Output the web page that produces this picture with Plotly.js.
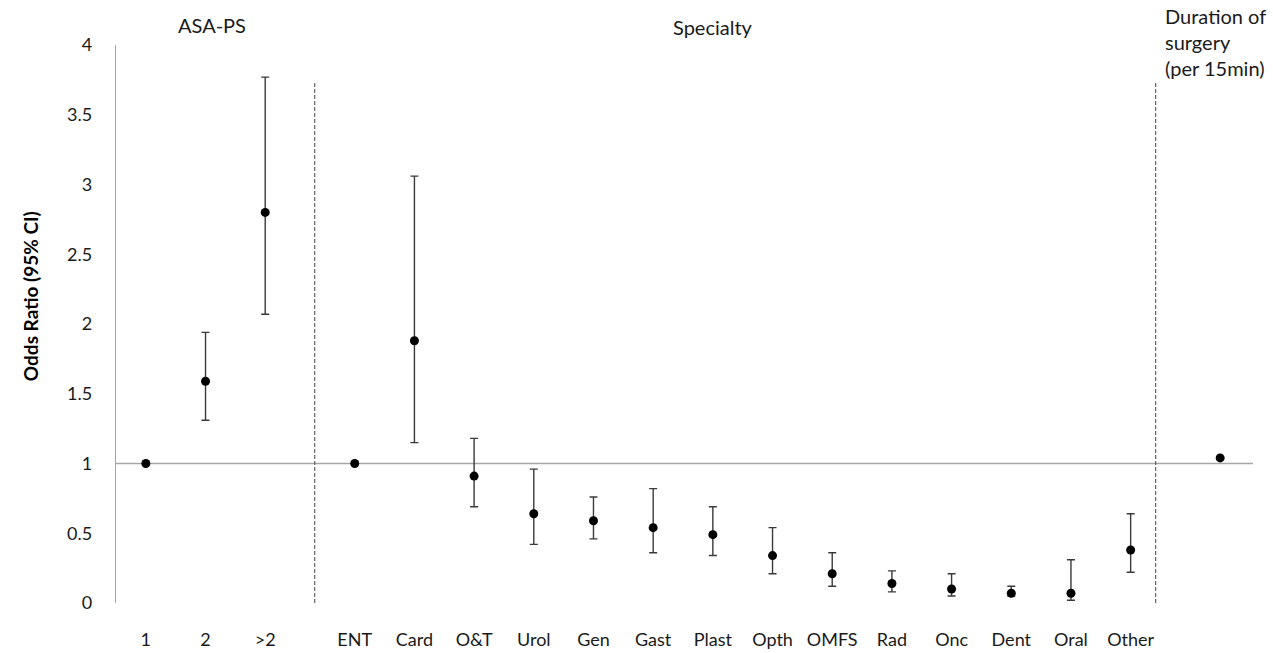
<!DOCTYPE html>
<html>
<head>
<meta charset="utf-8">
<script src="https://cdn.plot.ly/plotly-3.0.1.min.js"></script>
<style>html,body{margin:0;padding:0;background:#fff;}#chart{width:1273px;height:653px;}</style>
</head>
<body>
<div id="chart"></div>
<script>
// ---- data ----
const asaLabels = ['1', '2', '>2'];
const asaOR     = [1.00, 1.59, 2.80];
const asaLow    = [null, 1.31, 2.07];
const asaHigh   = [null, 1.94, 3.77];

const specLabels = ['ENT','Card','O&T','Urol','Gen','Gast','Plast','Opth','OMFS','Rad','Onc','Dent','Oral','Other'];
const specOR     = [1.00, 1.88, 0.91, 0.64, 0.59, 0.54, 0.49, 0.34, 0.21, 0.14, 0.10, 0.07, 0.07, 0.38];
const specLow    = [null, 1.15, 0.69, 0.42, 0.46, 0.36, 0.34, 0.21, 0.12, 0.08, 0.05, 0.05, 0.02, 0.22];
const specHigh   = [null, 3.06, 1.18, 0.96, 0.76, 0.82, 0.69, 0.54, 0.36, 0.23, 0.21, 0.12, 0.31, 0.64];

const durLabels = [''];
const durOR     = [1.04];
const durLow    = [null];
const durHigh   = [null];

const groupNames = ['ASA-PS', 'Specialty', 'Duration of<br>surgery<br>(per 15min)'];
const yTitle = 'Odds Ratio (95% CI)';

// ---- build positions (gap of 1.5 between groups) ----
const groups = [
  {labels: asaLabels, or: asaOR, lo: asaLow, hi: asaHigh},
  {labels: specLabels, or: specOR, lo: specLow, hi: specHigh},
  {labels: durLabels, or: durOR, lo: durLow, hi: durHigh}
];
const GAP = 1.5;
let pos = 0;
const xs = [], ys = [], labels = [], exs = [], eys = [], eplus = [], eminus = [];
const groupStart = [], groupEnd = [];
groups.forEach((g) => {
  groupStart.push(pos);
  g.labels.forEach((lab, i) => {
    xs.push(pos); ys.push(g.or[i]); labels.push(lab);
    if (g.lo[i] !== null) {
      exs.push(pos); eys.push(g.or[i]);
      eplus.push(g.hi[i] - g.or[i]); eminus.push(g.or[i] - g.lo[i]);
    }
    pos += 1;
  });
  groupEnd.push(pos - 1);
  pos += GAP - 1;
});

const font = 'Lato, "Open Sans", sans-serif';
const txt = '#1a1a1a';

const traces = [
  {
    x: exs, y: eys, type: 'scatter', mode: 'markers',
    marker: {size: 1, color: 'rgba(0,0,0,0)'},
    error_y: {type: 'data', symmetric: false, array: eplus, arrayminus: eminus,
              color: '#3a3a3a', thickness: 1.4, width: 4},
    hoverinfo: 'skip', showlegend: false
  },
  {
    x: xs, y: ys, type: 'scatter', mode: 'markers',
    marker: {size: 9, color: '#000'},
    showlegend: false
  }
];

const lastX = groupEnd[2];
const shapes = [
  {type: 'line', xref: 'paper', yref: 'y', x0: 0, x1: 1, y0: 1, y1: 1,
   line: {color: '#a6a6a6', width: 1.3}, layer: 'below'},
  {type: 'line', xref: 'x', yref: 'y', x0: groupEnd[0] + 0.83, x1: groupEnd[0] + 0.83, y0: 0, y1: 3.73,
   line: {color: '#444', width: 1, dash: '4px,2px'}},
  {type: 'line', xref: 'x', yref: 'y', x0: groupEnd[1] + 0.42, x1: groupEnd[1] + 0.42, y0: 0, y1: 3.73,
   line: {color: '#444', width: 1, dash: '4px,2px'}}
];

const annotations = [
  {text: groupNames[0], xref: 'x', yref: 'paper', x: (groupStart[0] + groupEnd[0]) / 2, y: 1, yshift: 20, xshift: 6,
   yanchor: 'middle', showarrow: false, font: {family: font, size: 20, color: txt}},
  {text: groupNames[1], xref: 'x', yref: 'paper', x: (groupStart[1] + groupEnd[1]) / 2 - 0.5, y: 1, yshift: 18,
   yanchor: 'middle', showarrow: false, font: {family: font, size: 20, color: txt}},
  {text: groupNames[2], xref: 'x', yref: 'paper', x: lastX - 0.95, y: 1, yshift: 43,
   xanchor: 'left', yanchor: 'top', align: 'left', showarrow: false,
   font: {family: font, size: 20, color: txt}},
  {text: '<b>' + yTitle + '</b>', xref: 'paper', yref: 'y', x: -0.0756, y: 2.2, textangle: -90,
   xanchor: 'center', yanchor: 'middle', showarrow: false,
   font: {family: font, size: 19, color: '#000'}}
];

const layout = {
  width: 1273, height: 653,
  margin: {l: 116, r: 20, t: 45, b: 50},
  paper_bgcolor: '#fff', plot_bgcolor: '#fff',
  font: {family: font, size: 18, color: txt},
  xaxis: {
    range: [-0.5, 18.55], tickmode: 'array', tickvals: xs, ticktext: labels,
    showgrid: false, zeroline: false, showline: false,
    ticks: 'outside', ticklen: 20, tickcolor: 'rgba(0,0,0,0)',
    tickfont: {family: font, size: 18, color: txt}
  },
  yaxis: {
    range: [0, 4], dtick: 0.5, showgrid: false, zeroline: false,
    showline: true, linecolor: '#a6a6a6', linewidth: 1.3,
    ticks: 'outside', ticklen: 19, tickcolor: 'rgba(0,0,0,0)',
    tickfont: {family: font, size: 18, color: txt}
  },
  shapes: shapes,
  annotations: annotations
};

Plotly.newPlot('chart', traces, layout, {displayModeBar: false, staticPlot: true});
</script>
</body>
</html>
